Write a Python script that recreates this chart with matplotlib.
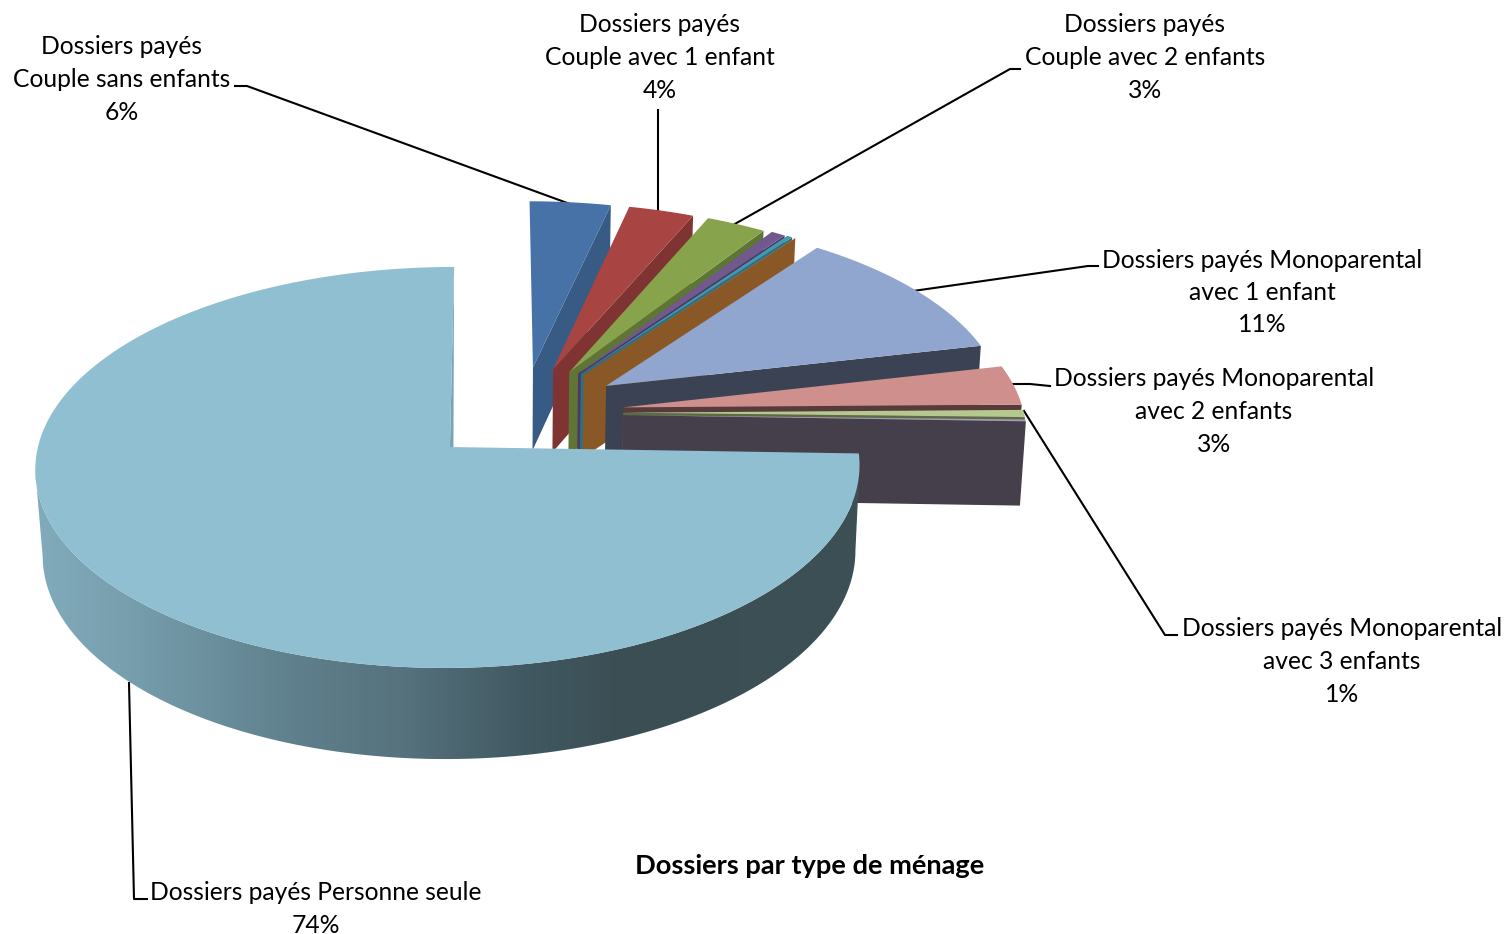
import numpy as np
import matplotlib
matplotlib.use('Agg')
import matplotlib.pyplot as plt
from matplotlib.colors import LinearSegmentedColormap
from matplotlib.patches import Polygon

# slice shares as measured on the drawing (the printed percentages don't quite match them)
categories = ['Couple sans enfants', 'Couple avec 1 enfant', 'Couple avec 2 enfants', 'Couple avec 3 enfants',
              'Couple avec 4 enfants', 'Couple avec 5 enfants', 'Monoparental avec 1 enfant',
              'Monoparental avec 2 enfants', 'Monoparental avec 3 enfants', 'Monoparental avec 4 enfants',
              'Personne seule']
shares = [3.65, 2.95, 2.7, 0.65, 0.25, 0.02, 11.25, 3.3, 0.6, 0.15, 74.5]

# explosion of each slice in the pie plane (1 = one radius)
explode_x = [0.2004, 0.2512, 0.2917, 0.3139, 0.3209, 0.328, 0.3826, 0.4213, 0.421, 0.4207, -0.005]
explode_y = [0.4175, 0.4074, 0.392, 0.385, 0.383, 0.378, 0.318, 0.2037, 0.176, 0.1635, 0.0]

top_colors = ['#4672a8', '#a84442', '#87a44c', '#71588f', '#4198af', '#e08a3c', '#91a6ce', '#ce8f8d', '#b5c98f',
              '#a899bc', '#90bfd1']
wall_colors = ['#375b85', '#7f3433', '#5f7535', '#4b3a63', '#2f6f80', '#8a5827', '#3b4253', '#573a3a', '#5c6b45',
               '#453f4c', '#3f545c']

# projection of the pie plane to pixels
vanish_x, vanish_off = 495, 43
apex_y = 447
rad_x, rad_y = 412, 198.4
persp = 0.102
depth = 85
shrink = 0.016


def project(X, Y, z=0.0):
    w = 1 + persp * Y
    scale = 1 - shrink * z
    # the base narrows less on the right than on the left
    scale_x = 1 - (0.7 if X > 0 else 1) * shrink * z
    return vanish_x + (rad_x * X - vanish_off) / w * scale_x, apex_y - rad_y * Y / w * scale + depth * z / w


def rim(ex, ey, theta):
    s = np.sin(theta)
    return ex + (0.99 * s if s > 0 else s), ey + np.cos(theta)


fig = plt.figure(figsize=(15.06, 9.34), dpi=100)
ax = fig.add_axes([0, 0, 1, 1])

edges = np.cumsum([0] + shares) / sum(shares) * 2 * np.pi

# leader lines go under the slices
leaders = [[(570, 204), (247, 86), (235, 86)],
           [(658, 212), (658, 110)],
           [(733, 225), (1010, 69), (1020, 69)],
           [(913, 291), (1088, 266), (1098, 266)],
           [(1012, 384), (1030, 384), (1050, 386)],
           [(1024, 411), (1165, 635), (1177, 635)],
           [(129, 683), (134, 899), (147, 899)]]
for pts in leaders:
    ax.plot([p[0] for p in pts], [p[1] for p in pts], color='black', lw=1.5, zorder=1)

# colour of the big slice's outer wall, by pixel column from 36 to 860
wall_stops = [(0.0, '#82abbb'), (0.115, '#779fae'), (0.32, '#5f7f8c'), (0.445, '#56737e'), (0.585, '#425a63'),
              (0.71, '#3b4e54'), (1.0, '#3c5056')]
wall_cmap = LinearSegmentedColormap.from_list('wall', wall_stops)

# far slices first, each one paints over the one before
for i in range(len(shares)):
    ex, ey = explode_x[i], explode_y[i]
    t0, t1 = edges[i], edges[i + 1]
    thetas = np.linspace(t0, t1, max(int((t1 - t0) * 120), 2))
    if i == len(shares) - 1:
        # outer wall of the big slice, only between the two silhouette points
        rim_x = np.array([project(*rim(ex, ey, t))[0] for t in thetas])
        front = thetas[np.argmax(rim_x):np.argmin(rim_x) + 1]
        outline = [project(*rim(ex, ey, t)) for t in front] + [project(*rim(ex, ey, t), 1) for t in front[::-1]]
        wall = Polygon(outline, closed=True, facecolor='none', lw=0, transform=ax.transData)
        ax.add_patch(wall)
        img = ax.imshow(np.linspace(0, 1, 825)[None, :], extent=[30, 860, 770, 440], aspect='auto', cmap=wall_cmap,
                        zorder=2 + i)
        img.set_clip_path(wall)
        # thin sliver of the cut face at twelve o'clock
        apex = project(ex, ey)
        sliver = [project(*rim(ex, ey, 0.0)), apex, (apex[0] + 3.5, apex[1])]
        ax.add_patch(Polygon(sliver, closed=True, facecolor='#7ba3b3', lw=0, zorder=2 + i))
    else:
        # cut face on the clockwise side
        xe, ye = rim(ex, ey, t1)
        quad = [project(ex, ey), project(xe, ye), project(xe, ye, 1), project(ex, ey, 1)]
        ax.add_patch(Polygon(quad, closed=True, facecolor=wall_colors[i], lw=0, zorder=2 + i))
    top = [project(ex, ey)] + [project(*rim(ex, ey, t)) for t in thetas]
    ax.add_patch(Polygon(top, closed=True, facecolor=top_colors[i], lw=0, zorder=2.5 + i))

ax.set_xlim(0, 1506)
ax.set_ylim(934, 0)
ax.axis('off')

# data labels
label_names = ['Dossiers payés\nCouple sans enfants', 'Dossiers payés\nCouple avec 1 enfant',
               'Dossiers payés\nCouple avec 2 enfants', 'Dossiers payés Monoparental\navec 1 enfant',
               'Dossiers payés Monoparental\navec 2 enfants', 'Dossiers payés Monoparental\navec 3 enfants',
               'Dossiers payés Personne seule']
label_pct = [6, 4, 3, 11, 3, 1, 74]
label_x = [122, 660, 1145, 1262, 1214, 1342, 316]
label_y = [79.5, 57.5, 57.5, 292.5, 411.5, 661.5, 909]

for name, pct, x, y in zip(label_names, label_pct, label_x, label_y):
    ax.text(x, y, f'{name}\n{pct}%', ha='center', va='center', ma='center', fontsize=17.7,
            family='Lato', color='black', linespacing=1.5, zorder=30)

ax.text(810, 866, 'Dossiers par type de ménage', ha='center', va='center', fontsize=19.6,
        family='Lato', fontweight='bold', color='black', zorder=30)

fig.savefig('out.png', dpi=100, facecolor='white')
